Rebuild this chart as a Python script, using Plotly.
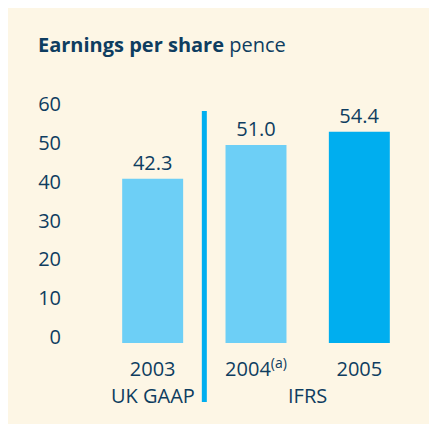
import plotly.graph_objects as go

years = ["2003", "2004<sup>(a)</sup>", "2005"]
eps = [42.3, 51.0, 54.4]
value_labels = ["42.3", "51.0", "54.4"]
bar_colors = ["#6DCFF6", "#6DCFF6", "#00AEEF"]
y_ticks = [0, 10, 20, 30, 40, 50, 60]
groups = [("UK GAAP", 0), ("IFRS", 1.5)]

NAVY = "#0E3D60"
CREAM = "#FDF6E5"
FONT = "Open Sans"

fig = go.Figure()
fig.add_trace(go.Bar(
    x=years, y=eps, marker=dict(color=bar_colors, line=dict(width=0)),
    text=value_labels, textposition="outside", cliponaxis=False,
    textfont=dict(family=FONT, size=20, color=NAVY), width=0.59,
))

fig.add_shape(type="line", xref="x", yref="paper", x0=0.5, x1=0.5, y0=-0.253, y1=0.996,
              line=dict(color="#00AEEF", width=5))

for name, pos in groups:
    fig.add_annotation(x=pos, y=-0.227, xref="x", yref="paper", text=name, showarrow=False,
                       font=dict(family=FONT, size=20, color=NAVY), yanchor="middle")

fig.update_layout(
    width=437, height=424, margin=dict(l=93, r=34, t=102, b=89),
    paper_bgcolor=CREAM, plot_bgcolor="rgba(0,0,0,0)", showlegend=False,
    title=dict(text="<b>Earnings per share</b> pence", x=30/437, xanchor="left",
               y=1-37/424, yanchor="middle", font=dict(family=FONT, size=20, color=NAVY)),
)
fig.update_yaxes(range=[0, 60], tickvals=y_ticks, showgrid=False, zeroline=False, showline=False,
                 ticks="", ticklabelstandoff=39, ticklabelshift=-6,
                 tickfont=dict(family=FONT, size=20, color=NAVY))
fig.update_xaxes(range=[-0.5, 2.5], showgrid=False, showline=False, ticks="",
                 ticklabelstandoff=12, tickfont=dict(family=FONT, size=20, color=NAVY))

fig.write_html("out.html")
